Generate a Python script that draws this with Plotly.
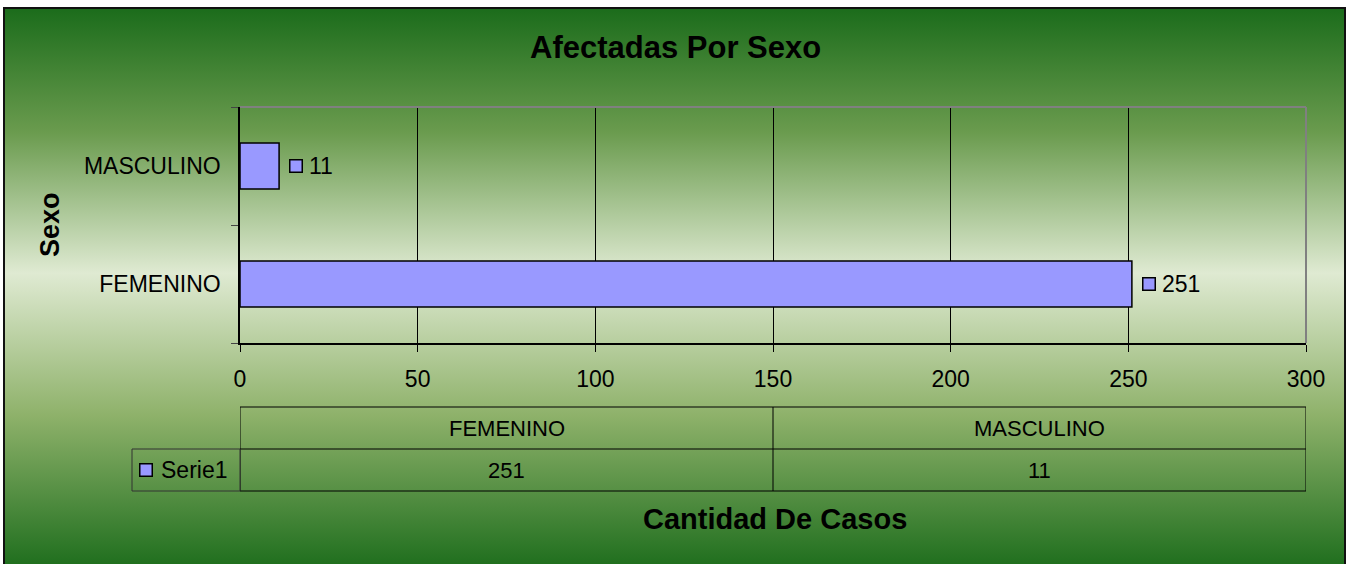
import base64

import plotly.graph_objects as go

# data
categories = ["FEMENINO", "MASCULINO"]
casos = [251, 11]
series_name = "Serie1"
x_ticks = [0, 50, 100, 150, 200, 250, 300]

W, H = 1348, 564
ML, MR, MT, MB = 240, 42, 107, 221
PW, PH = W - ML - MR, H - MT - MB

FONT = "Liberation Sans, Arial, sans-serif"
BAR_COLOR = "#9999FF"


def px_y(py):
    # pixel row -> paper y
    return (H - MB - py) / PH


def px_x(px):
    return (px - ML) / PW


# green chart-area background as an svg gradient
svg = f"""<svg xmlns="http://www.w3.org/2000/svg" width="{W}" height="{H}" viewBox="0 0 {W} {H}">
<defs><linearGradient id="g" x1="0" y1="0" x2="0" y2="1">
<stop offset="0" stop-color="#1b6c1b"/>
<stop offset="0.22" stop-color="#6a9b4e"/>
<stop offset="0.47" stop-color="#dfead2"/>
<stop offset="0.72" stop-color="#8fb26b"/>
<stop offset="1" stop-color="#1b6c1b"/>
</linearGradient></defs>
<rect width="{W}" height="{H}" fill="white"/>
<rect x="4" y="8" width="{W - 7}" height="{H}" fill="url(#g)" stroke="#111" stroke-width="2"/>
</svg>"""
bg_src = "data:image/svg+xml;base64," + base64.b64encode(svg.encode()).decode()

fig = go.Figure()
fig.add_trace(go.Bar(
    name=series_name,
    y=categories, x=casos,
    orientation="h",
    marker=dict(color=BAR_COLOR, line=dict(color="black", width=1.5)),
    showlegend=False,
    hoverinfo="skip",
))

annotations = []
shapes = []

# data labels: legend key square + value
for cat, val in zip(categories, casos):
    annotations.append(dict(
        x=val, y=cat, xref="x", yref="y", text=" ", showarrow=False,
        xanchor="center", yanchor="middle", xshift=17,
        width=11, height=11, borderpad=0, borderwidth=1.5,
        bordercolor="black", bgcolor=BAR_COLOR, font=dict(size=4),
    ))
    annotations.append(dict(
        x=val, y=cat, xref="x", yref="y", text=str(val), showarrow=False,
        xanchor="left", yanchor="middle", xshift=28,
        font=dict(family=FONT, size=23, color="black"),
    ))

# plot area border (top/right gray)
shapes.append(dict(type="line", xref="paper", yref="paper", x0=0, x1=1, y0=1, y1=1,
                   line=dict(color="#808080", width=2), layer="above"))
shapes.append(dict(type="line", xref="paper", yref="paper", x0=1, x1=1, y0=0, y1=1,
                   line=dict(color="#808080", width=2), layer="above"))

# data table under the axis
y_top, y_mid, y_bot = px_y(407), px_y(449), px_y(491)
tbl_line = dict(color="black", width=1)
x_lo, x_hi = x_ticks[0], x_ticks[-1]
x_split = (x_lo + x_hi) / 2
for yy in (y_top, y_mid, y_bot):
    shapes.append(dict(type="line", xref="x", yref="paper", x0=x_lo, x1=x_hi, y0=yy, y1=yy, line=tbl_line))
for xx in (x_lo, x_split, x_hi):
    shapes.append(dict(type="line", xref="x", yref="paper", x0=xx, x1=xx, y0=y_top, y1=y_bot, line=tbl_line))
# series-name cell on the left
left = px_x(132)
shapes.append(dict(type="rect", xref="paper", yref="paper", x0=left, x1=0, y0=y_bot, y1=y_mid,
                   line=dict(color="#333", width=1)))
annotations.append(dict(
    x=px_x(146), y=(y_mid + y_bot) / 2, xref="paper", yref="paper", text=" ", showarrow=False,
    xanchor="center", yanchor="middle", width=11, height=11, borderpad=0, borderwidth=1.5,
    bordercolor="black", bgcolor=BAR_COLOR, font=dict(size=4),
))
annotations.append(dict(
    x=px_x(159), y=(y_mid + y_bot) / 2, xref="paper", yref="paper", text=series_name,
    showarrow=False, xanchor="left", yanchor="middle",
    font=dict(family=FONT, size=23, color="black"),
))
col_w = (x_hi - x_lo) / len(categories)
for i, (cat, val) in enumerate(zip(categories, casos)):
    cx = x_lo + col_w * (i + 0.5)
    annotations.append(dict(x=cx, y=(y_top + y_mid) / 2, xref="x", yref="paper", text=cat,
                            showarrow=False, yanchor="middle",
                            font=dict(family=FONT, size=22, color="black")))
    annotations.append(dict(x=cx, y=(y_mid + y_bot) / 2, xref="x", yref="paper", text=str(val),
                            showarrow=False, yanchor="middle",
                            font=dict(family=FONT, size=22, color="black")))

# titles
annotations.append(dict(x=px_x(675), y=px_y(47), xref="paper", yref="paper",
                        text="<b>Afectadas Por Sexo</b>", showarrow=False, yanchor="middle",
                        font=dict(family=FONT, size=31, color="black")))
annotations.append(dict(x=px_x(775), y=px_y(519), xref="paper", yref="paper",
                        text="<b>Cantidad De Casos</b>", showarrow=False, yanchor="middle",
                        font=dict(family=FONT, size=29, color="black")))
annotations.append(dict(x=px_x(50), y=px_y(225), xref="paper", yref="paper",
                        text="<b>Sexo</b>", showarrow=False, textangle=-90,
                        xanchor="center", yanchor="middle",
                        font=dict(family=FONT, size=27, color="black")))

fig.update_layout(
    width=W, height=H,
    margin=dict(l=ML, r=MR, t=MT, b=MB, pad=0),
    paper_bgcolor="white",
    plot_bgcolor="#C0C0C0",
    bargap=0.61,
    font=dict(family=FONT, size=23, color="black"),
    images=[dict(source=bg_src, xref="paper", yref="paper",
                 x=-ML / PW, y=1 + MT / PH, sizex=W / PW, sizey=H / PH,
                 xanchor="left", yanchor="top", sizing="stretch", layer="below")],
    shapes=shapes,
    annotations=annotations,
    xaxis=dict(
        range=[x_lo, x_hi], tickvals=x_ticks, showgrid=True, gridcolor="black", gridwidth=1,
        showline=True, linecolor="black", linewidth=1.5, ticks="outside", ticklen=7,
        tickcolor="black", ticklabelstandoff=8, zeroline=False, fixedrange=True,
    ),
    yaxis=dict(
        categoryorder="array", categoryarray=categories, showgrid=False,
        showline=True, linecolor="black", linewidth=1.5, ticks="outside", ticklen=7,
        tickcolor="#444", tickson="boundaries", ticklabelstandoff=13, fixedrange=True,
    ),
)

fig.write_html("out.html", config={"displayModeBar": False},
               post_script="document.body.style.margin='0';")
